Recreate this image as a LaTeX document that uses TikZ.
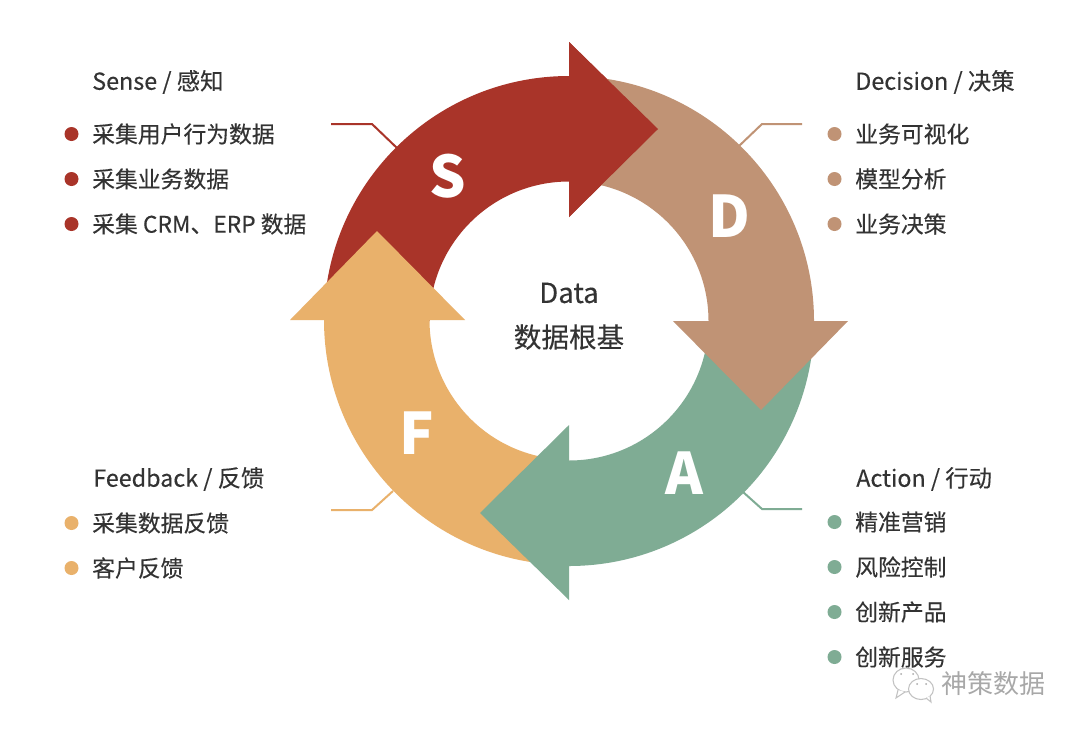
\documentclass[tikz,border=0pt]{standalone}
\usepackage{fontspec}
\setmainfont{Noto Sans CJK SC}
\newfontfamily\medf{Noto Sans CJK SC}[FakeBold=0.25]
\definecolor{cS}{HTML}{A93429}
\definecolor{cD}{HTML}{C09375}
\definecolor{cA}{HTML}{7FAC94}
\definecolor{cF}{HTML}{E9B16B}
\definecolor{ink}{HTML}{333333}
\definecolor{wm}{HTML}{A8A8A8}
\newcommand{\ringband}[2]{%
  \begin{scope}[shift={(569,321)},x=.75pt,y=.75pt,rotate=#1]
    \fill[#2] (180:245) arc[start angle=180,end angle=90,radius=245]
      -- (0,279) -- (89,192) -- (0,104) -- (0,139.5)
      arc[start angle=90,end angle=180,radius=139.5] -- cycle;
  \end{scope}}
\tikzset{
  head/.style={anchor=west,inner sep=0pt,text=ink,font=\medf\fontsize{17.5}{20}\selectfont},
  item/.style={anchor=west,inner sep=0pt,text=ink,font=\medf\fontsize{17.1}{20}\selectfont},
  bigletter/.style={inner sep=0pt,text=white,font=\fontsize{43}{50}\selectfont\bfseries},
  centre/.style={inner sep=0pt,text=ink,font=\medf\fontsize{20.7}{25}\selectfont},
  leader/.style={line width=1.5pt},
  bub/.style={draw=wm!70,line width=.8pt,fill=white},
}
\newcommand{\bul}[4]{\fill[#1] (#2+.5,#3) circle[radius=7];\node[item] at (#2+21,#3) {#4};}
\begin{document}
\begin{tikzpicture}[x=.75pt,y=-.75pt]
\useasboundingbox (0,0) rectangle (1080,732);
\fill[white] (0,0) rectangle (1080,732);
% leaders
\coordinate (s0) at (331,124); \coordinate (s1) at (372,124); \coordinate (s2) at (397,148);
\coordinate (d0) at (802,124); \coordinate (d1) at (762,124); \coordinate (d2) at (739,146);
\coordinate (a0) at (802,509); \coordinate (a1) at (762,509); \coordinate (a2) at (743,492);
\coordinate (f0) at (331,510); \coordinate (f1) at (372,510); \coordinate (f2) at (393,491);
\draw[leader,cS] (s0) -- (s1) -- (s2);
\draw[leader,cD] (d0) -- (d1) -- (d2);
\draw[leader,cA] (a0) -- (a1) -- (a2);
\draw[leader,cF] (f0) -- (f1) -- (f2);
% ring
\ringband{0}{cS}
\begin{scope}[yshift=.75pt]\ringband{90}{cF}\end{scope}
\ringband{180}{cA}
\ringband{-90}{cD}
\begin{scope}[shift={(569,321)},x=.75pt,y=.75pt]
  \fill[cS] (0,279) -- (89,192) -- (0,104) -- cycle;
\end{scope}
% letters
\node[bigletter] (lS) at (448,176) {S};
\node[bigletter] (lD) at (729,216) {D};
\node[bigletter] (lA) at (684,473) {A};
\node[bigletter] (lF) at (417,433) {F};
% centre
\node[centre] (c1) at (569,293) {Data};
\node[centre] (c2) at (569,337) {数据根基};
% Sense
\node[head] (hS) at (92,82) {Sense / 感知};
\bul{cS}{71}{134}{采集用户行为数据}
\bul{cS}{71}{179}{采集业务数据}
\bul{cS}{71}{224}{采集 CRM、ERP 数据}
% Decision
\node[head] (hD) at (855,82) {Decision / 决策};
\bul{cD}{834}{134}{业务可视化}
\bul{cD}{834}{179}{模型分析}
\bul{cD}{834}{224}{业务决策}
% Feedback
\node[head] (hF) at (93,479) {Feedback / 反馈};
\bul{cF}{71}{523}{采集数据反馈}
\bul{cF}{71}{568}{客户反馈}
% Action
\node[head] (hA) at (856,479) {Action / 行动};
\bul{cA}{834}{522}{精准营销}
\bul{cA}{834}{567}{风险控制}
\bul{cA}{834}{612}{创新产品}
\bul{cA}{834}{657}{创新服务}
% watermark
\draw[bub] (906,680) ellipse[x radius=13,y radius=12];
\draw[bub] (898,690) -- (896,698) -- (905,692);
\draw[bub] (921,689) ellipse[x radius=12.5,y radius=10.5];
\draw[bub] (926,698) -- (931,702) -- (930,696);
\fill[wm] (901,674) circle[radius=1] (913,674) circle[radius=1] (917,684) circle[radius=1] (926,684) circle[radius=1];
\node[anchor=west,inner sep=0pt,text=wm,font=\fontsize{19.5}{24}\selectfont] (wt) at (941,684) {神策数据};
\end{tikzpicture}
\end{document}
